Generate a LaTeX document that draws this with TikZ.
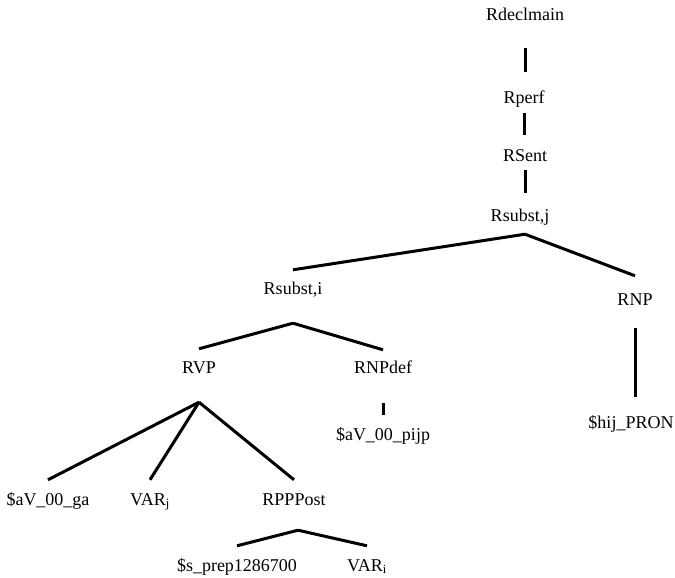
\documentclass[tikz,border=0pt]{standalone}
\usepackage{fontspec}
\setmainfont{Liberation Serif}
\usetikzlibrary{positioning}

\begin{document}
\begin{tikzpicture}[x=1pt, y=-1pt,
    lbl/.style={font=\fontsize{18}{20}\selectfont, inner sep=0pt, text height=12pt, text depth=0pt},
    branch/.style={line width=3pt, black}
]
\useasboundingbox (0,0) rectangle (675,578);

% labels of the tree
\node[lbl] (decl) at (525,15) {Rdeclmain};
\node[lbl] (perf) at (524,97) {Rperf};
\node[lbl] (sent) at (525,155) {RSent};
\node[lbl] (substj) at (520,215) {Rsubst,j};
\node[lbl] (substi) at (293,288) {Rsubst,i};
\node[lbl] (rnp) at (635,299) {RNP};
\node[lbl] (rvp) at (199,367) {RVP};
\node[lbl] (npdef) at (383,367) {RNPdef};
\node[lbl] (pijp) at (383,434) {\$aV\_00\_pijp};
\node[lbl] (hij) at (631,422) {\$hij\_PRON};
\node[lbl] (aVga) at (48,499) {\$aV\_00\_ga};
\node[lbl] (varj) at (150,499) {VAR\textsubscript{j}};
\node[lbl] (pppost) at (294,499) {RPPPost};
\node[lbl] (sprep) at (237,565) {\$s\_prep1286700};
\node[lbl] (vari) at (367,565) {VAR\textsubscript{i}};

% forks below the parents
\coordinate[below=27pt of decl] (decl-f);
\coordinate[below=10pt of perf] (perf-f);
\coordinate[below=9pt of sent] (sent-f);
\coordinate[below=13pt of substj, xshift=5pt] (substj-f);
\coordinate[below=29pt of substi] (substi-f);
\coordinate[below=23pt of rnp] (rnp-f);
\coordinate[below=29pt of rvp] (rvp-f);
\coordinate[below=30pt of npdef] (npdef-f);
\coordinate[below=25pt of pppost, xshift=4pt] (pppost-f);

% unary branches
\draw[branch] (decl-f) -- ([yshift=19pt]perf.north -| decl-f);
\draw[branch] (perf-f) -- ([yshift=14pt]sent.north -| perf-f);
\draw[branch] (sent-f) -- ([yshift=16pt]substj.north -| sent-f);
\draw[branch] (npdef-f) -- ([yshift=13pt]pijp.north -| npdef-f);
\draw[branch] (rnp-f) -- ([yshift=19pt]hij.north -| rnp-f);

% splitting branches
\draw[branch] (substj-f) -- ([yshift=12pt]substi.north);
\draw[branch] (substj-f) -- ([yshift=17pt]rnp.north);
\draw[branch] (substi-f) -- ([yshift=12pt]rvp.north);
\draw[branch] (substi-f) -- ([yshift=11pt]npdef.north);
\draw[branch] (rvp-f) -- ([yshift=13pt]aVga.north);
\draw[branch] (rvp-f) -- ([yshift=13pt]varj.north);
\draw[branch] (rvp-f) -- ([yshift=13pt]pppost.north);
\draw[branch] (pppost-f) -- ([yshift=13pt]sprep.north);
\draw[branch] (pppost-f) -- ([yshift=13pt]vari.north);
\end{tikzpicture}
\end{document}
